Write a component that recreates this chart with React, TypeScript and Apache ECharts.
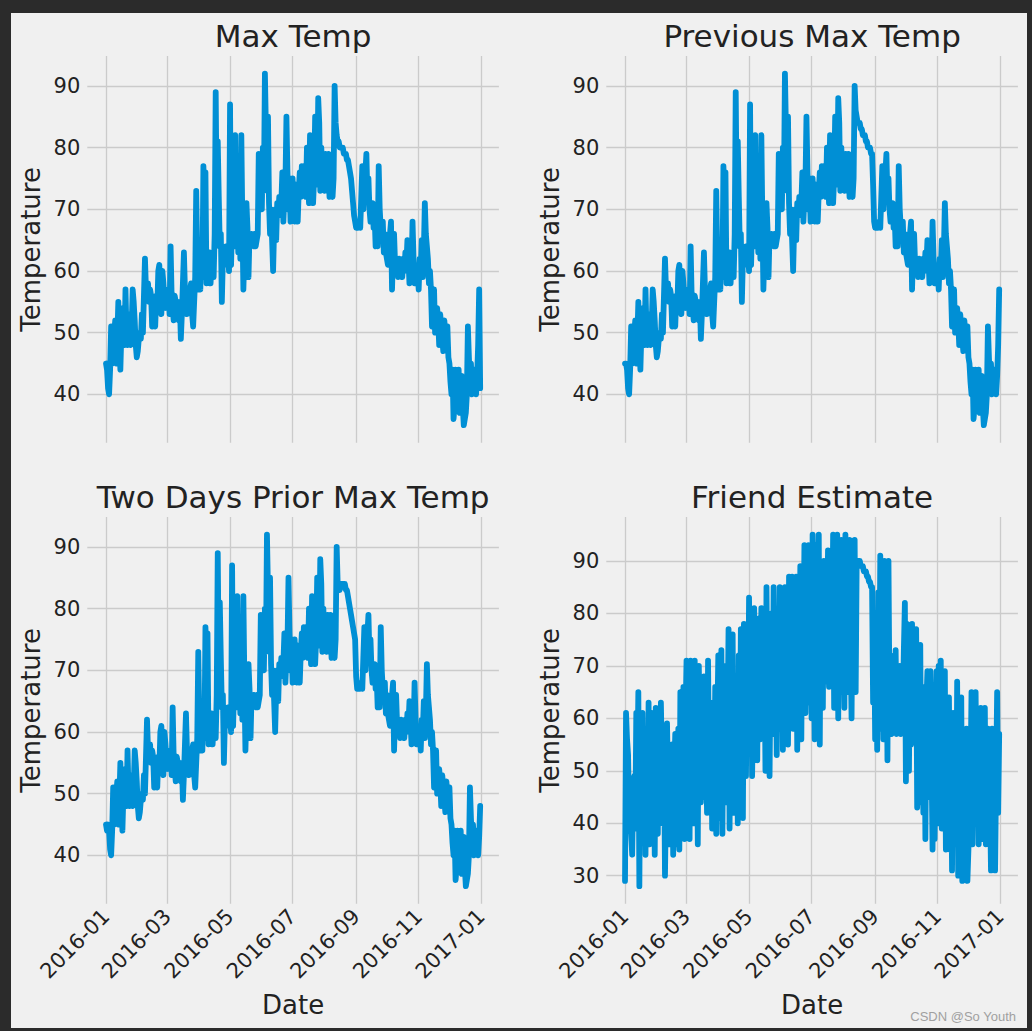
import React, { useEffect, useRef } from "react";
import * as echarts from "echarts";

// ---------------- DATA ----------------
const START_YEAR = 2016;
const TICK_LABELS = ["2016-01", "2016-03", "2016-05", "2016-07", "2016-09", "2016-11", "2017-01"];
const TEMP_TICKS = [40, 50, 60, 70, 80, 90];
const FRIEND_TICKS = [30, 40, 50, 60, 70, 80, 90];

// daily values, 2016-01-01 .. 2016-12-31
const maxTemp = [
  45,44,41,40,44,51,45,48,50,52,45,49,55,49,44,50,52,54,48,57,50,48,53,49,48,51,57,55,52,48,46,
  47,49,50,49,53,50,56,62,57,56,58,55,57,56,51,55,53,51,56,54,60,61,55,53,60,58,55,54,56,
  55,57,53,64,56,54,52,56,55,53,54,52,55,49,53,58,63,57,55,53,56,54,57,58,53,51,55,59,73,62,57,
  60,57,65,59,77,72,76,58,60,59,63,58,61,60,59,66,89,70,81,72,64,66,55,62,63,61,64,62,63,60,
  87,61,68,75,64,82,66,70,63,78,62,82,68,57,63,65,71,67,59,66,64,66,65,64,66,64,65,66,79,71,72,
  70,80,73,92,83,74,85,71,66,70,65,60,67,70,65,71,69,72,70,71,76,68,72,74,85,76,70,75,68,72,
  75,69,68,74,70,68,73,76,72,77,73,75,77,72,80,76,71,82,78,80,71,75,85,79,74,88,84,73,80,76,74,
  73,79,74,73,79,72,75,73,72,75,90,84,82,81,81,80,80,80,80,79,79,79,78,78,77,76,75,73,71,69,68,
  67,67,67,68,67,72,77,70,74,76,79,72,75,70,68,71,71,67,69,64,66,64,77,70,67,65,68,63,66,63,
  62,61,64,66,68,57,63,66,61,60,62,59,62,60,61,59,62,60,63,61,65,62,58,63,60,68,62,58,61,59,60,
  57,62,60,65,59,63,71,66,64,62,58,60,57,51,55,57,50,53,54,52,48,53,51,49,47,52,50,48,51,46,
  45,42,40,44,36,38,44,43,40,44,37,41,43,38,35,36,37,40,51,46,42,45,40,41,44,42,40,43,48,57,41,
];

const prevMaxTemp = [
  45,45,44,41,40,44,51,45,48,50,52,45,49,55,49,44,50,52,54,48,57,50,48,53,49,48,51,57,55,52,48,
  46,47,49,50,49,53,50,56,62,57,56,58,55,57,56,51,55,53,51,56,54,60,61,55,53,60,58,55,54,
  56,55,57,53,64,56,54,52,56,55,53,54,52,55,49,53,58,63,57,55,53,56,54,57,58,53,51,55,59,73,62,
  57,60,57,65,59,77,72,76,58,60,59,63,58,61,60,59,66,89,70,81,72,64,66,55,62,63,61,64,62,63,
  60,87,61,68,75,64,82,66,70,63,78,62,82,68,57,63,65,71,67,59,66,64,66,65,64,66,64,65,66,79,71,
  72,70,80,73,92,83,74,85,71,66,70,65,60,67,70,65,71,69,72,70,71,76,68,72,74,85,76,70,75,68,
  72,75,69,68,74,70,68,73,76,72,77,73,75,77,72,80,76,71,82,78,80,71,75,85,79,74,88,84,73,80,76,
  74,73,79,74,73,79,72,75,73,72,75,90,86,85,84,84,84,83,83,82,82,82,81,81,80,80,80,79,79,74,68,
  67,67,67,67,68,67,72,77,70,74,76,79,72,75,70,68,71,71,67,69,64,66,64,77,70,67,65,68,63,66,
  63,62,61,64,66,68,57,63,66,61,60,62,59,62,60,61,59,62,60,63,61,65,62,58,63,60,68,62,58,61,59,
  60,57,62,60,65,59,63,71,66,64,62,58,60,57,51,55,57,50,53,54,52,48,53,51,49,47,52,50,48,51,
  46,45,42,40,44,36,38,44,43,40,44,37,41,43,38,35,36,37,40,51,46,42,45,40,41,44,42,40,43,48,57,
];

const twoDaysPriorMaxTemp = [
  45,44,45,44,41,40,44,51,45,48,50,52,45,49,55,49,44,50,52,54,48,57,50,48,53,49,48,51,57,55,52,
  48,46,47,49,50,49,53,50,56,62,57,56,58,55,57,56,51,55,53,51,56,54,60,61,55,53,60,58,55,
  54,56,55,57,53,64,56,54,52,56,55,53,54,52,55,49,53,58,63,57,55,53,56,54,57,58,53,51,55,59,73,
  62,57,60,57,65,59,77,72,76,58,60,59,63,58,61,60,59,66,89,70,81,72,64,66,55,62,63,61,64,62,
  63,60,87,61,68,75,64,82,66,70,63,78,62,82,68,57,63,65,71,67,59,66,64,66,65,64,66,64,65,66,79,
  71,72,70,80,73,92,83,74,85,71,66,70,65,60,67,70,65,71,69,72,70,71,76,68,72,74,85,76,70,75,
  68,72,75,69,68,74,70,68,73,76,72,77,73,75,77,72,80,76,71,82,78,80,71,75,85,79,74,88,84,73,80,
  76,74,73,79,74,73,79,72,75,73,72,75,90,84,83,83,84,84,84,84,84,83,83,82,81,80,79,78,77,76,75,
  69,67,67,67,67,68,67,72,77,70,74,76,79,72,75,70,68,71,71,67,69,64,66,64,77,70,67,65,68,63,
  66,63,62,61,64,66,68,57,63,66,61,60,62,59,62,60,61,59,62,60,63,61,65,62,58,63,60,68,62,58,61,
  59,60,57,62,60,65,59,63,71,66,64,62,58,60,57,51,55,57,50,53,54,52,48,53,51,49,47,52,50,48,
  51,46,45,42,40,44,36,38,44,43,40,44,37,41,43,38,35,36,37,40,51,46,42,45,40,41,44,42,40,43,48,
];

const friendEstimate = [
  29,61,56,53,41,40,38,34,47,49,39,61,49,65,28,60,47,61,37,55,34,58,42,63,36,51,61,40,57,34,62,
  46,38,61,44,63,52,40,57,30,45,59,47,36,54,40,55,34,49,57,36,44,58,35,65,38,53,66,37,60,
  71,45,66,37,71,52,60,40,71,48,64,36,70,55,44,61,50,68,45,58,42,71,49,44,63,39,57,46,66,38,59,
  72,41,55,73,38,64,50,70,44,58,77,39,62,47,76,42,66,53,60,40,72,48,77,56,41,78,63,49,70,58,
  83,56,75,49,66,81,60,72,52,79,63,56,81,68,58,74,50,85,62,77,49,70,80,57,85,64,76,53,80,61,85,
  58,82,54,73,85,64,78,55,87,70,62,87,58,80,67,87,54,75,68,89,56,84,72,93,61,80,67,93,63,83,
  60,95,78,56,93,70,84,95,55,88,72,62,90,67,86,74,92,66,81,88,74,95,62,86,78,95,60,90,70,94,65,
  78,62,95,70,88,65,94,74,60,86,70,94,65,90,90,90,90,89,89,89,88,88,88,87,87,86,86,85,85,63,79,
  56,79,54,84,62,91,58,75,56,90,67,83,52,90,63,72,57,69,60,65,73,57,63,60,70,57,65,62,73,82,
  48,78,60,50,76,55,78,56,74,61,77,43,70,58,74,44,62,42,66,37,63,69,45,60,69,52,35,64,37,58,69,
  40,70,44,71,39,63,48,69,35,58,42,64,35,55,31,61,45,50,36,67,30,52,41,64,29,48,57,33,58,29,
  35,57,48,65,36,55,40,65,44,58,36,49,62,37,55,40,62,36,50,58,37,45,31,58,40,53,31,49,65,42,57,
];

const PANEL_TITLES = ["Max Temp", "Previous Max Temp", "Two Days Prior Max Temp", "Friend Estimate"];
const PANEL_VALUES = [maxTemp, prevMaxTemp, twoDaysPriorMaxTemp, friendEstimate];
const PANEL_TICKS = [TEMP_TICKS, TEMP_TICKS, TEMP_TICKS, FRIEND_TICKS];

// ---------------- LAYOUT / STYLE ----------------
const FONT = "DejaVu Sans";
const TEXT = "#222222";
const GRID_COLOR = "#cbcbcb";
const LINE_COLOR = "#008fd5";
const OX = 11; // light panel offset inside dark frame
const OY = 13;
const COLS = [87.3, 606.3];
const ROWS = [56, 517];
const PW = 411.6;
const PH = 386.8;
const TICK_FS = 21;
const LABEL_FS = 26;
const TITLE_FS = 31;

const DAY_MS = 86400000;
const dayIndex = (label: string) => {
  const [y, m] = label.split("-").map(Number);
  return Math.round((Date.UTC(y, m - 1, 1) - Date.UTC(START_YEAR, 0, 1)) / DAY_MS);
};
const TICK_DAYS = TICK_LABELS.map(dayIndex);

function buildOption() {
  const grid: any[] = [];
  const xAxis: any[] = [];
  const yAxis: any[] = [];
  const series: any[] = [];
  const graphic: any[] = [];

  PANEL_VALUES.forEach((vals, i) => {
    const col = i % 2;
    const row = Math.floor(i / 2);
    const left = COLS[col] - OX;
    const top = ROWS[row] - OY;
    grid.push({ left, top, width: PW, height: PH, containLabel: false });

    const n = vals.length - 1;
    const vMin = Math.min(...vals);
    const vMax = Math.max(...vals);
    const yPad = (vMax - vMin) * 0.05;
    const bottomRow = row === 1;

    xAxis.push({
      type: "value",
      gridIndex: i,
      min: -n * 0.05,
      max: n * 1.05,
      axisLine: { show: false },
      axisTick: { show: false, customValues: TICK_DAYS },
      splitLine: { show: true, lineStyle: { color: GRID_COLOR, width: 1.3 } },
      axisLabel: {
        show: bottomRow,
        customValues: TICK_DAYS,
        formatter: (v: number) => {
          const k = TICK_DAYS.indexOf(Math.round(v));
          return k >= 0 ? TICK_LABELS[k] : "";
        },
        rotate: 45,
        margin: 9,
        fontSize: TICK_FS,
        fontFamily: FONT,
        color: TEXT,
      },
      name: bottomRow ? "Date" : "",
      nameLocation: "middle",
      nameGap: 88,
      nameTextStyle: { fontSize: LABEL_FS, fontFamily: FONT, color: TEXT },
    });

    yAxis.push({
      type: "value",
      gridIndex: i,
      min: vMin - yPad,
      max: vMax + yPad,
      axisLine: { show: false },
      axisTick: { show: false, customValues: PANEL_TICKS[i] },
      splitLine: { show: true, lineStyle: { color: GRID_COLOR, width: 1.3 } },
      axisLabel: {
        customValues: PANEL_TICKS[i],
        margin: 7,
        fontSize: TICK_FS,
        fontFamily: FONT,
        color: TEXT,
      },
      name: "Temperature",
      nameLocation: "middle",
      nameRotate: 90,
      nameGap: 43,
      nameTextStyle: { fontSize: LABEL_FS, fontFamily: FONT, color: TEXT },
    });

    series.push({
      type: "line",
      name: PANEL_TITLES[i],
      xAxisIndex: i,
      yAxisIndex: i,
      data: vals.map((v, d) => [d, v]),
      showSymbol: false,
      symbol: "none",
      silent: true,
      lineStyle: { color: LINE_COLOR, width: 5.8, cap: "round", join: "round" },
      itemStyle: { color: LINE_COLOR },
    });

    graphic.push({
      type: "text",
      x: left + PW / 2,
      y: top - 20,
      style: {
        text: PANEL_TITLES[i],
        fill: TEXT,
        font: `${TITLE_FS}px '${FONT}'`,
        align: "center",
        verticalAlign: "middle",
      },
    });
  });

  graphic.push({
    type: "text",
    x: 1016 - OX,
    y: 1016 - OY,
    style: {
      text: "CSDN @So Youth",
      fill: "#a0a0a0",
      font: "13px 'Liberation Sans'",
      align: "right",
      verticalAlign: "middle",
    },
  });

  return {
    animation: false,
    backgroundColor: "#f0f0f0",
    grid,
    xAxis,
    yAxis,
    series,
    graphic,
  };
}

export default function App() {
  const ref = useRef<HTMLDivElement>(null);
  useEffect(() => {
    if (!ref.current) return;
    const chart = echarts.init(ref.current, null, { renderer: "svg" });
    chart.setOption(buildOption() as any);
    return () => chart.dispose();
  }, []);
  return (
    <div
      style={{
        position: "absolute",
        left: 0,
        top: 0,
        width: 1032,
        height: 1031,
        background: "#2b2b2b",
        overflow: "hidden",
      }}
    >
      <div
        ref={ref}
        style={{ position: "absolute", left: OX, top: OY, width: 1016, height: 1015 }}
      />
    </div>
  );
}
